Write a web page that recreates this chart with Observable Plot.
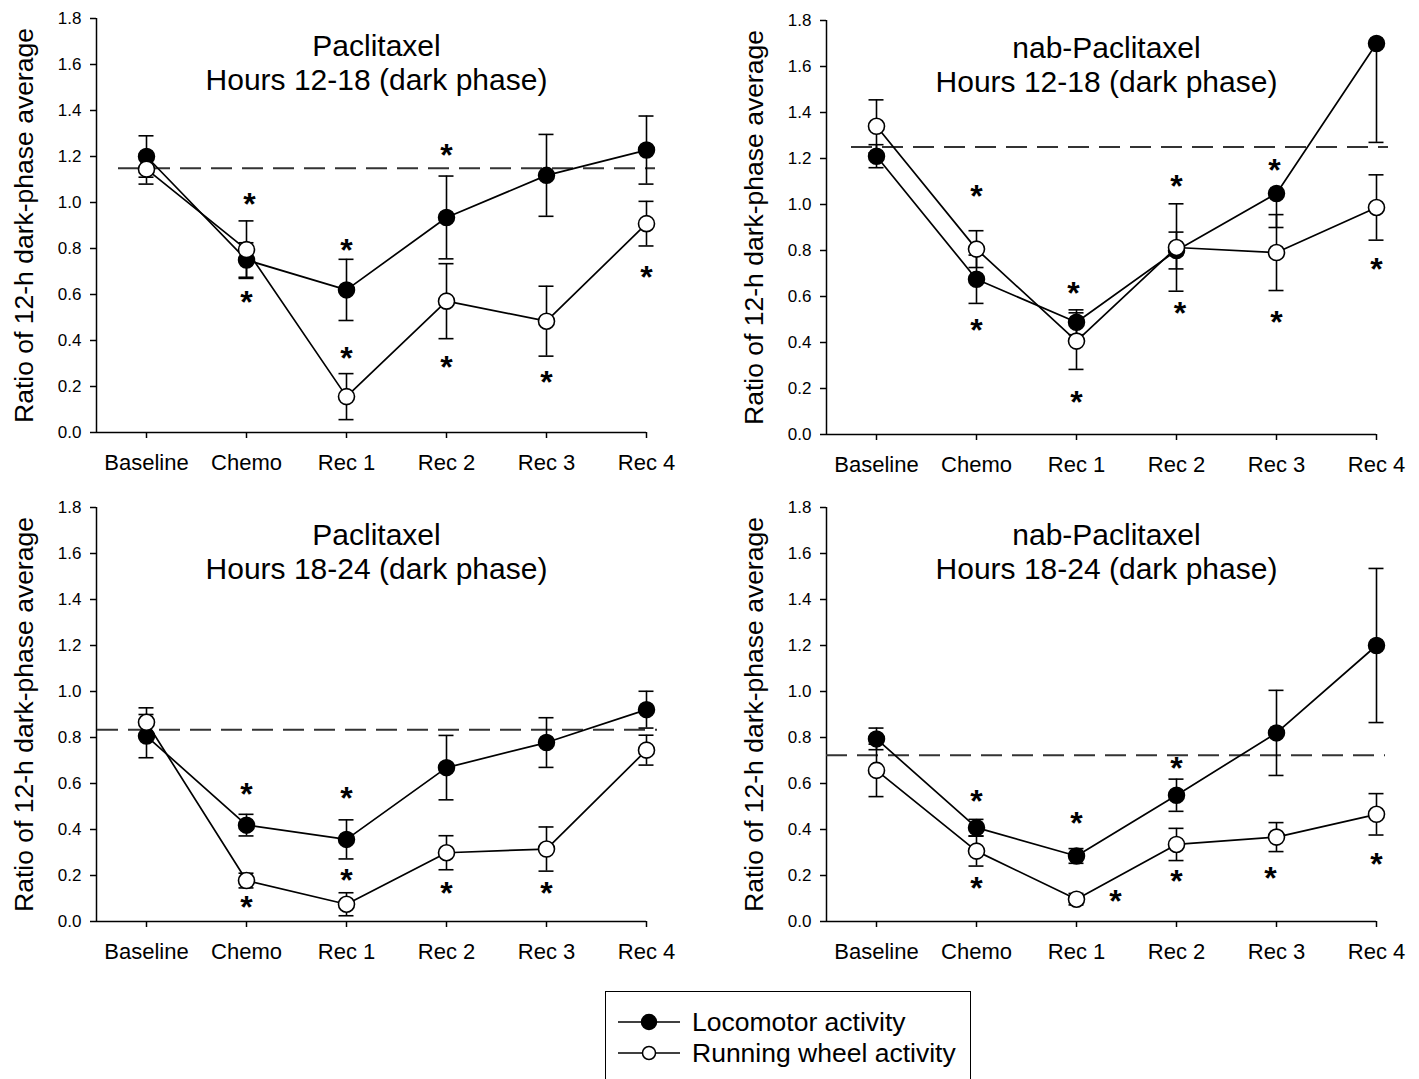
<!DOCTYPE html>
<html>
<head>
<meta charset="utf-8">
<script src="https://cdn.jsdelivr.net/npm/d3@7"></script>
<script src="https://cdn.jsdelivr.net/npm/@observablehq/plot@0.6"></script>
<style>
  html, body { margin: 0; padding: 0; background: #fff; }
  body { font-family: "Liberation Sans", Arial, sans-serif; }
  #wrap { position: relative; width: 1419px; height: 1079px; overflow: hidden; background: #fff; }
  .panel { position: absolute; width: 700px; height: 480px; }
  .panel svg { max-width: none !important; display: block; }
  .legend { position: absolute; left: 605px; top: 991px; width: 366px; height: 110px; border: 1.5px solid #000; box-sizing: border-box; }
  .legend .row { position: absolute; left: 12px; height: 30px; display: flex; align-items: center; }
  .legend .row span { font-size: 26.5px; margin-left: 10px; color: #000; white-space: nowrap; }
</style>
</head>
<body>
<div id="wrap"></div>
<script>
const FONT = "Liberation Sans, Arial, sans-serif";

// ---- shared categories / ticks / labels ----
const categories = ["Baseline", "Chemo", "Rec 1", "Rec 2", "Rec 3", "Rec 4"];
const yTicks = [0, 0.2, 0.4, 0.6, 0.8, 1.0, 1.2, 1.4, 1.6, 1.8];
const yLabel = "Ratio of 12-h dark-phase average";
const seriesNames = ["Locomotor activity", "Running wheel activity"];

// ---- Panel A: Paclitaxel, hours 12-18 ----
const titleA = ["Paclitaxel", "Hours 12-18 (dark phase)"];
const locoA = [1.20, 0.75, 0.62, 0.935, 1.118, 1.228];
const locoErrA = [0.09, 0.075, 0.133, 0.18, 0.178, 0.148];
const wheelA = [1.145, 0.795, 0.156, 0.571, 0.484, 0.908];
const wheelErrA = [0.065, 0.125, 0.10, 0.163, 0.152, 0.097];
const refA = 1.149;
const starsA = [["Chemo", 1.005, 0.03], ["Chemo", 0.578, 0], ["Rec 1", 0.805, 0], ["Rec 1", 0.333, 0],
                ["Rec 2", 1.217, 0], ["Rec 2", 0.296, 0], ["Rec 3", 0.228, 0], ["Rec 4", 0.687, 0]];

// ---- Panel B: nab-Paclitaxel, hours 12-18 ----
const titleB = ["nab-Paclitaxel", "Hours 12-18 (dark phase)"];
const locoB = [1.21, 0.675, 0.488, 0.80, 1.048, 1.70];
const locoErrB = [0.05, 0.105, 0.054, 0.08, 0.148, 0.43];
const locoErrUpB = [0.05, 0.105, 0.054, 0.08, 0, 0];
const wheelB = [1.34, 0.806, 0.406, 0.813, 0.791, 0.987];
const wheelErrB = [0.115, 0.08, 0.123, 0.19, 0.165, 0.142];
const refB = 1.25;
const starsB = [["Chemo", 1.048, 0], ["Chemo", 0.464, 0], ["Rec 1", 0.627, -0.03], ["Rec 1", 0.152, 0],
                ["Rec 2", 1.092, 0], ["Rec 2", 0.537, 0.035], ["Rec 3", 1.161, -0.02], ["Rec 3", 0.501, 0],
                ["Rec 4", 0.729, 0]];

// ---- Panel C: Paclitaxel, hours 18-24 ----
const titleC = ["Paclitaxel", "Hours 18-24 (dark phase)"];
const locoC = [0.806, 0.419, 0.357, 0.669, 0.778, 0.921];
const locoErrC = [0.094, 0.047, 0.085, 0.14, 0.108, 0.08];
const wheelC = [0.866, 0.178, 0.075, 0.299, 0.315, 0.745];
const wheelErrC = [0.063, 0.032, 0.05, 0.074, 0.096, 0.065];
const refC = 0.834;
const starsC = [["Chemo", 0.564, 0], ["Chemo", 0.075, 0], ["Rec 1", 0.545, 0], ["Rec 1", 0.191, 0],
                ["Rec 2", 0.133, 0], ["Rec 3", 0.133, 0]];

// ---- Panel D: nab-Paclitaxel, hours 18-24 ----
const titleD = ["nab-Paclitaxel", "Hours 18-24 (dark phase)"];
const locoD = [0.794, 0.408, 0.285, 0.549, 0.82, 1.20];
const locoErrD = [0.047, 0.036, 0.032, 0.07, 0.185, 0.335];
const wheelD = [0.657, 0.306, 0.097, 0.335, 0.367, 0.466];
const wheelErrD = [0.114, 0.065, 0.025, 0.07, 0.063, 0.09];
const refD = 0.723;
const starsD = [["Chemo", 0.533, 0], ["Chemo", 0.155, 0], ["Rec 1", 0.437, 0], ["Rec 1", 0.10, 0.39],
                ["Rec 2", 0.678, 0], ["Rec 2", 0.184, 0], ["Rec 3", 0.198, -0.06], ["Rec 4", 0.26, 0]];

function makePanel(p) {
  const rows = [];
  categories.forEach((c, i) => {
    const up = p.locoErrUp ? p.locoErrUp[i] : p.locoErr[i];
    rows.push({i, s: "loco", v: p.loco[i], lo: p.loco[i] - p.locoErr[i], hi: p.loco[i] + up, up});
    rows.push({i, s: "wheel", v: p.wheel[i], lo: p.wheel[i] - p.wheelErr[i], hi: p.wheel[i] + p.wheelErr[i], up: p.wheelErr[i]});
  });
  const loco = rows.filter(d => d.s === "loco");
  const wheel = rows.filter(d => d.s === "wheel");
  const caps = rows.flatMap(d => d.up > 0 ? [{i: d.i, y: d.lo}, {i: d.i, y: d.hi}] : [{i: d.i, y: d.lo}]);
  const stars = p.stars.map(([c, y, off]) => ({x: categories.indexOf(c) + off, y}));
  const cw = 0.075;
  return Plot.plot({
    width: 700, height: 480,
    marginLeft: 96, marginRight: 54, marginTop: 18, marginBottom: 48,
    style: {fontFamily: FONT, color: "#000", background: "transparent", overflow: "visible"},
    x: {type: "linear", domain: [-0.5, 5]},
    y: {domain: [0, 1.8]},
    marks: [
      Plot.axisY(yTicks, {tickFormat: d3.format(".1f"), tickSize: 6, tickPadding: 9, fontSize: 17, label: null, strokeWidth: 1.5}),
      Plot.axisX(d3.range(categories.length), {tickFormat: i => categories[i], tickSize: 6, tickPadding: 16, fontSize: 22, label: null, strokeWidth: 1.5}),
      Plot.ruleX([-0.5], {stroke: "#000", strokeWidth: 1.5}),
      Plot.ruleY([0], {x1: -0.5, x2: 5, stroke: "#000", strokeWidth: 1.5}),
      Plot.ruleY([p.ref], {x1: p.refFrom, x2: p.refTo, stroke: "#333", strokeWidth: 2, strokeDasharray: "21,10"}),
      Plot.ruleX(rows, {x: "i", y1: "lo", y2: "hi", stroke: "#000", strokeWidth: 1.6}),
      Plot.ruleY(caps, {y: "y", x1: d => d.i - cw, x2: d => d.i + cw, stroke: "#000", strokeWidth: 1.6}),
      Plot.line(loco, {x: "i", y: "v", stroke: "#000", strokeWidth: 1.7}),
      Plot.line(wheel, {x: "i", y: "v", stroke: "#000", strokeWidth: 1.7}),
      Plot.dot(loco, {x: "i", y: "v", r: 8, fill: "#000", stroke: "#000", strokeWidth: 1.5}),
      Plot.dot(wheel, {x: "i", y: "v", r: 8, fill: "#fff", stroke: "#000", strokeWidth: 1.6}),
      Plot.text(stars, {x: "x", y: "y", text: () => "*", fontSize: 32, fontWeight: "bold", dy: 3, fill: "#000"}),
      Plot.text([p.title.join("\n")], {frameAnchor: "top", lineAnchor: "middle", textAnchor: "middle", dy: 44, dx: 5, fontSize: 30, lineHeight: 1.13, fill: "#000"}),
      Plot.text([yLabel], {frameAnchor: "left", rotate: -90, textAnchor: "middle", lineAnchor: "middle", dx: -72, fontSize: 26.5, fill: "#000"})
    ]
  });
}

const panels = [
  {left: 0, top: 0, title: titleA, loco: locoA, locoErr: locoErrA, wheel: wheelA, wheelErr: wheelErrA, ref: refA, refFrom: -0.28, refTo: 5.09, stars: starsA},
  {left: 730, top: 2, title: titleB, loco: locoB, locoErr: locoErrB, locoErrUp: locoErrUpB, wheel: wheelB, wheelErr: wheelErrB, ref: refB, refFrom: -0.25, refTo: 5.12, stars: starsB},
  {left: 0, top: 489, title: titleC, loco: locoC, locoErr: locoErrC, wheel: wheelC, wheelErr: wheelErrC, ref: refC, refFrom: -0.49, refTo: 5.11, stars: starsC},
  {left: 730, top: 489, title: titleD, loco: locoD, locoErr: locoErrD, wheel: wheelD, wheelErr: wheelErrD, ref: refD, refFrom: -0.5, refTo: 5.09, stars: starsD}
];

const wrap = document.getElementById("wrap");
for (const p of panels) {
  const div = document.createElement("div");
  div.className = "panel";
  div.style.left = p.left + "px";
  div.style.top = p.top + "px";
  div.appendChild(makePanel(p));
  wrap.appendChild(div);
}

// ---- legend ----
const legend = document.createElement("div");
legend.className = "legend";
seriesNames.forEach((name, k) => {
  const row = document.createElement("div");
  row.className = "row";
  row.style.top = (15 + k * 31) + "px";
  const filled = k === 0;
  row.innerHTML = `<svg width="64" height="30"><line x1="0" y1="15" x2="62" y2="15" stroke="#000" stroke-width="1.5"/>` +
    `<circle cx="31" cy="15" r="${filled ? 7.5 : 6.5}" fill="${filled ? "#000" : "#fff"}" stroke="#000" stroke-width="1.5"/></svg>` +
    `<span>${name}</span>`;
  legend.appendChild(row);
});
wrap.appendChild(legend);
</script>
</body>
</html>
